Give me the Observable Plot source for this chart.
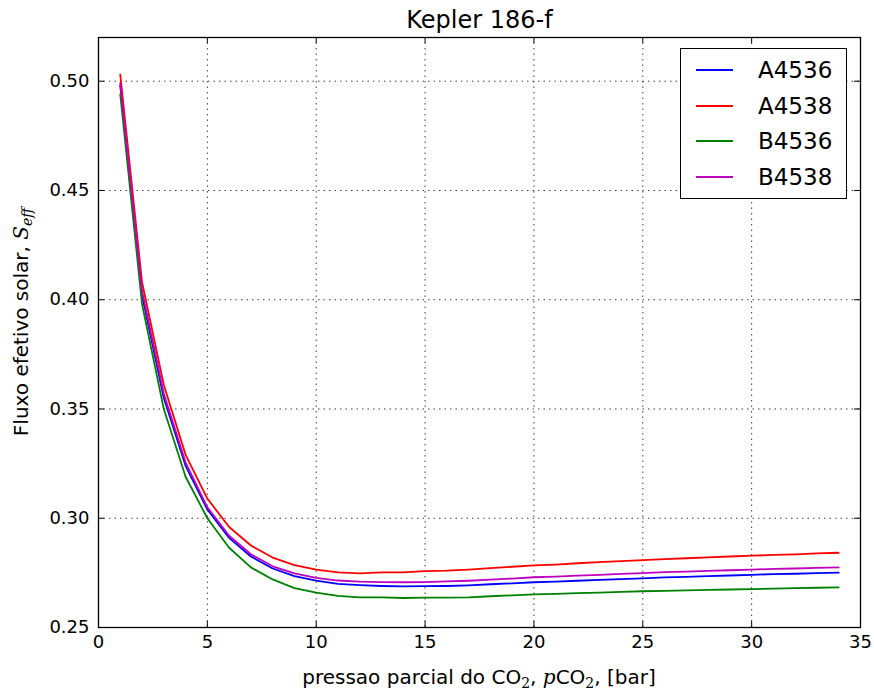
<!DOCTYPE html>
<html><head><meta charset="utf-8">
<script src="https://cdn.jsdelivr.net/npm/d3@7"></script>
<script src="https://cdn.jsdelivr.net/npm/@observablehq/plot@0.6"></script>
<style>
body{margin:0;background:#fff;}
#wrap{position:relative;width:874px;height:690px;font-family:"DejaVu Sans",sans-serif;}
#legend{position:absolute;left:680px;top:48px;width:167px;height:151px;border:1.3px solid #000;background:#fff;box-sizing:border-box;}
#legend .row{position:absolute;left:0;height:30px;display:flex;align-items:center;font-size:23px;color:#000;}
#legend .sw{display:inline-block;width:37px;height:2px;margin-left:15px;margin-right:25px;}
</style></head><body><div id="wrap"></div>
<script>
const pCO2 = [1,2,3,4,5,6,7,8,9,10,11,12,13,14,15,16,17,18,19,20,21,22,23,24,25,26,27,28,29,30,31,32,33,34];
const A4536 = [0.498,0.402,0.355,0.324,0.304,0.291,0.2825,0.277,0.2735,0.2715,0.2700,0.2694,0.2690,0.2688,0.2689,0.2690,0.2693,0.2698,0.2702,0.2707,0.2710,0.2714,0.2718,0.2721,0.2725,0.2729,0.2732,0.2735,0.2738,0.2741,0.2744,0.2746,0.2749,0.2751];
const A4538 = [0.503,0.408,0.361,0.329,0.309,0.296,0.2875,0.282,0.2785,0.2765,0.2752,0.2748,0.2752,0.2752,0.2758,0.2760,0.2765,0.2772,0.2778,0.2784,0.2788,0.2794,0.2799,0.2804,0.2808,0.2813,0.2817,0.2821,0.2825,0.2829,0.2832,0.2835,0.2839,0.2842];
const B4536 = [0.494,0.398,0.350,0.319,0.300,0.2865,0.2775,0.272,0.268,0.266,0.2645,0.2638,0.2638,0.2635,0.2637,0.2637,0.2638,0.2643,0.2647,0.2652,0.2654,0.2657,0.2660,0.2663,0.2666,0.2668,0.2670,0.2672,0.2674,0.2676,0.2678,0.2680,0.2682,0.2684];
const B4538 = [0.499,0.404,0.357,0.3255,0.305,0.292,0.2835,0.278,0.2748,0.2727,0.2715,0.2710,0.2708,0.2707,0.2708,0.2711,0.2714,0.2719,0.2724,0.2730,0.2733,0.2737,0.2741,0.2745,0.2749,0.2753,0.2756,0.2759,0.2762,0.2765,0.2768,0.2770,0.2773,0.2775];
const seriesNames = ["A4536","A4538","B4536","B4538"];
const seriesColors = ["#0000ff","#ff0000","#008000","#bf00bf"];
const xTicks = [0,5,10,15,20,25,30,35];
const yTicks = [0.25,0.30,0.35,0.40,0.45,0.50];
const yTickLabels = ["0.25","0.30","0.35","0.40","0.45","0.50"];
const titleText = "Kepler 186-f";

const seriesValues = [A4536, A4538, B4536, B4538];
const rows = [];
seriesValues.forEach((arr, i) => arr.forEach((v, j) => rows.push({series: seriesNames[i], x: pCO2[j], y: v})));

const W = 874, H = 690, mt = 37, mb = 63, ml = 98, mr = 14;
const fh = H - mt - mb, fw = W - ml - mr;
const tick = 6;

const chart = Plot.plot({
  width: W, height: H, marginTop: mt, marginBottom: mb, marginLeft: ml, marginRight: mr,
  style: {fontFamily: "DejaVu Sans", fontSize: "18px", color: "#000", background: "#fff", overflow: "visible"},
  x: {domain: [0, 35]},
  y: {domain: [0.25, 0.52]},
  color: {domain: seriesNames, range: seriesColors},
  marks: [
    Plot.gridX(xTicks, {stroke: "#000", strokeOpacity: 0.75, strokeWidth: 1, strokeDasharray: "1.5,4"}),
    Plot.gridY(yTicks, {stroke: "#000", strokeOpacity: 0.75, strokeWidth: 1, strokeDasharray: "1.5,4"}),
    Plot.lineY(rows, {x: "x", y: "y", z: "series", stroke: "series", strokeWidth: 1.8}),
    Plot.frame({stroke: "#000", strokeWidth: 1.3}),
    Plot.ruleX(xTicks, {x: d => d, insetTop: fh - tick, stroke: "#000"}),
    Plot.ruleX(xTicks, {x: d => d, insetBottom: fh - tick, stroke: "#000"}),
    Plot.ruleY(yTicks, {y: d => d, insetRight: fw - tick, stroke: "#000"}),
    Plot.ruleY(yTicks, {y: d => d, insetLeft: fw - tick, stroke: "#000"}),
    Plot.axisX(xTicks, {tickSize: 0, tickPadding: 8, label: null, fontSize: 18}),
    Plot.axisY(yTicks, {tickSize: 0, tickPadding: 9, tickFormat: (d) => yTickLabels[yTicks.indexOf(d)], label: null, fontSize: 18}),
    Plot.text([titleText], {text: d => d, frameAnchor: "top", dy: -10, lineAnchor: "bottom", fontSize: 24, fill: "#000"})
  ]
});
const wrap = document.getElementById("wrap");
wrap.appendChild(chart);

const svg = d3.select(chart);
// x label
const xl = svg.append("text")
  .attr("x", ml + fw / 2).attr("y", H - 6)
  .attr("text-anchor", "middle").attr("font-size", 20).attr("fill", "#000")
  .attr("font-family", "DejaVu Sans");
xl.append("tspan").text("pressao parcial do CO");
xl.append("tspan").attr("font-family", "DejaVu Serif").attr("font-size", 14).attr("dy", 4).text("2");
xl.append("tspan").attr("dy", -4).text(", ");
xl.append("tspan").attr("font-family", "DejaVu Serif").attr("font-style", "italic").text("p");
xl.append("tspan").text("CO");
xl.append("tspan").attr("font-family", "DejaVu Serif").attr("font-size", 14).attr("dy", 4).text("2");
xl.append("tspan").attr("dy", -4).text(", [bar]");
// y label
const yl = svg.append("text")
  .attr("transform", `translate(28,${mt + fh / 2 - 10}) rotate(-90)`)
  .attr("text-anchor", "middle").attr("font-size", 20).attr("fill", "#000")
  .attr("font-family", "DejaVu Sans");
yl.append("tspan").text("Fluxo efetivo solar, ");
yl.append("tspan").attr("font-family", "DejaVu Serif").attr("font-style", "italic").text("S");
yl.append("tspan").attr("font-family", "DejaVu Serif").attr("font-style", "italic").attr("font-size", 14).attr("dy", 4).text("eff");

// legend
const leg = document.createElement("div");
leg.id = "legend";
seriesNames.forEach((name, i) => {
  const r = document.createElement("div");
  r.className = "row";
  r.style.top = (6 + i * 35.5) + "px";
  const sw = document.createElement("span");
  sw.className = "sw";
  sw.style.background = seriesColors[i];
  r.appendChild(sw);
  const t = document.createElement("span");
  t.textContent = name;
  r.appendChild(t);
  leg.appendChild(r);
});
wrap.appendChild(leg);
</script></body></html>
